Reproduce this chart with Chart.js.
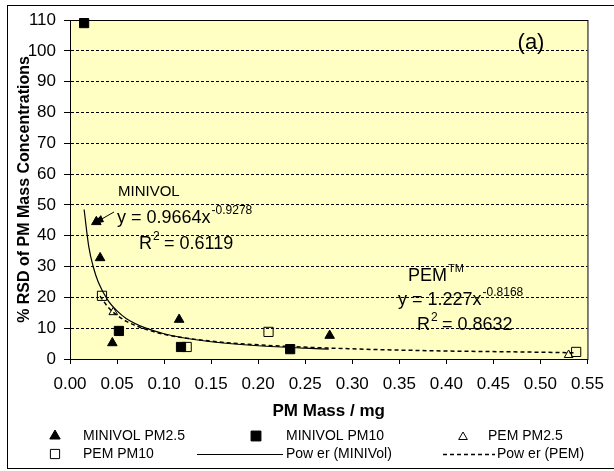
<!DOCTYPE html>
<html>
<head>
<meta charset="utf-8">
<script src="https://cdn.jsdelivr.net/npm/chart.js@4.4.0/dist/chart.umd.min.js"></script>
<style>
  body { margin: 0; background: #fff; }
  #wrap { width: 614px; height: 471px; }
</style>
</head>
<body>
<div id="wrap"><canvas id="rsdChart" width="614" height="471"></canvas></div>
<script>
// measured points
var minivolPm25X = [0.028, 0.032, 0.045, 0.116, 0.276];
var minivolPm25Y = [44.5, 32.8, 5.2, 12.8, 7.6];
var minivolPm10X = [0.015, 0.052, 0.118, 0.234];
var minivolPm10Y = [109, 9.1, 3.9, 3.2];
var pemPm25X = [0.046, 0.530];
var pemPm25Y = [15.2, 1.3];
var pemPm10X = [0.034, 0.124, 0.211, 0.538];
var pemPm10Y = [20.5, 3.9, 8.8, 2.3];

// trend lines
var minivolFitX = [0.015, 0.02, 0.025, 0.03, 0.04, 0.05, 0.06, 0.08, 0.10, 0.12, 0.15, 0.20, 0.25, 0.275];
var minivolFitY = [48.5, 36.4, 29.6, 25.0, 19.2, 15.6, 13.1, 10.1, 8.2, 6.9, 5.6, 4.3, 3.5, 3.2];
var pemFitX = [0.032, 0.04, 0.05, 0.06, 0.08, 0.10, 0.15, 0.20, 0.30, 0.40, 0.50, 0.537];
var pemFitY = [20.4, 17.0, 14.2, 12.2, 9.7, 8.0, 5.8, 4.6, 3.3, 2.6, 2.2, 2.0];

var seriesLabels = ['MINIVOL PM2.5', 'MINIVOL PM10', 'PEM PM2.5', 'PEM PM10', 'Pow er (MINIVol)', 'Pow er (PEM)'];

var FONT = '"Liberation Sans", Arial, sans-serif';

function pairs(xs, ys) {
  return xs.map(function (x, i) {
    return { x: x, y: ys[i] };
  });
}

function drawMarker(ctx, style, filled, x, y, r) {
  ctx.save();
  ctx.beginPath();
  if (style === 'triangle') {
    ctx.moveTo(x, y - r);
    ctx.lineTo(x + r * 0.866, y + r * 0.5);
    ctx.lineTo(x - r * 0.866, y + r * 0.5);
    ctx.closePath();
  } else {
    var s = r * Math.SQRT1_2;
    ctx.rect(x - s, y - s, 2 * s, 2 * s);
  }
  ctx.lineWidth = 1;
  ctx.strokeStyle = '#000';
  ctx.fillStyle = filled ? '#000' : '#fff';
  ctx.fill();
  ctx.stroke();
  ctx.restore();
}

// text with a raised exponent, left aligned
function supText(ctx, base, sup, x, y, size, supSize, supRise) {
  ctx.font = size + 'px ' + FONT;
  ctx.textBaseline = 'middle';
  ctx.textAlign = 'left';
  ctx.fillText(base, x, y);
  var w = ctx.measureText(base).width;
  ctx.font = supSize + 'px ' + FONT;
  ctx.fillText(sup, x + w + 1, y - supRise);
  return w;
}

var framePlugin = {
  id: 'frame',
  beforeDraw: function (chart) {
    var ctx = chart.ctx;
    var a = chart.chartArea;
    ctx.save();
    ctx.fillStyle = '#fff';
    ctx.fillRect(0, 0, chart.width, chart.height);
    ctx.strokeStyle = '#000';
    ctx.lineWidth = 1;
    ctx.strokeRect(7.5, 5.5, 640, 463);
    ctx.fillStyle = 'rgb(255,255,196)';
    ctx.fillRect(a.left, a.top, a.right - a.left, a.bottom - a.top);
    ctx.restore();
  },
  beforeDatasetsDraw: function (chart) {
    var ctx = chart.ctx;
    var a = chart.chartArea;
    ctx.save();
    ctx.strokeStyle = '#000';
    ctx.lineWidth = 1;
    ctx.strokeRect(a.left + 0.5, a.top + 0.5, a.right - a.left, a.bottom - a.top);
    ctx.restore();
  },
  afterDraw: function (chart) {
    var ctx = chart.ctx;
    ctx.save();
    ctx.fillStyle = '#000';

    // panel tag
    ctx.font = '22px ' + FONT;
    ctx.textAlign = 'center';
    ctx.textBaseline = 'middle';
    ctx.fillText('(a)', 531, 43);

    // MINIVOL fit label
    ctx.font = '15px ' + FONT;
    ctx.textAlign = 'left';
    ctx.fillText('MINIVOL', 118, 192);
    supText(ctx, 'y = 0.9664x', '-0.9278', 117, 218, 18, 12, 7);
    supText(ctx, 'R', '2', 139, 244, 18, 12, 7);
    ctx.font = '18px ' + FONT;
    ctx.fillText(' = 0.6119', 139 + ctx.measureText('R').width + 7, 244);

    // arrow to the first point
    ctx.strokeStyle = '#000';
    ctx.lineWidth = 1;
    ctx.beginPath();
    ctx.moveTo(114, 212);
    ctx.lineTo(100, 220);
    ctx.stroke();
    ctx.beginPath();
    ctx.moveTo(93, 224);
    ctx.lineTo(101, 215);
    ctx.lineTo(104, 222);
    ctx.closePath();
    ctx.fill();

    // PEM fit label
    supText(ctx, 'PEM', 'TM', 408, 276, 18, 11, 7);
    supText(ctx, 'y = 1.227x', '-0.8168', 398, 300, 18, 12, 7);
    supText(ctx, 'R', '2', 417, 325, 18, 12, 7);
    ctx.font = '18px ' + FONT;
    ctx.fillText(' = 0.8632', 417 + ctx.measureText('R').width + 7, 325);

    // legend
    var row1 = 436, row2 = 454;
    ctx.font = '14px ' + FONT;
    ctx.textBaseline = 'middle';
    drawMarker(ctx, 'triangle', true, 55, row1, 6);
    ctx.fillText(seriesLabels[0], 83, row1);
    drawMarker(ctx, 'rect', true, 256, row1, 7);
    ctx.fillText(seriesLabels[1], 286, row1);
    drawMarker(ctx, 'triangle', false, 463, row1 + 1, 5);
    ctx.fillText(seriesLabels[2], 488, row1);
    drawMarker(ctx, 'rect', false, 55, row2, 6.5);
    ctx.fillText(seriesLabels[3], 83, row2);
    ctx.beginPath();
    ctx.moveTo(197, row2 + 0.5);
    ctx.lineTo(283, row2 + 0.5);
    ctx.stroke();
    ctx.fillText(seriesLabels[4], 286, row2);
    ctx.save();
    ctx.lineWidth = 1.5;
    ctx.setLineDash([4, 3]);
    ctx.beginPath();
    ctx.moveTo(443, row2 + 0.5);
    ctx.lineTo(495, row2 + 0.5);
    ctx.stroke();
    ctx.restore();
    ctx.fillText(seriesLabels[5], 497, row2);
    ctx.restore();
  }
};

var ctx = document.getElementById('rsdChart').getContext('2d');
new Chart(ctx, {
  type: 'scatter',
  data: {
    datasets: [
      {
        label: seriesLabels[0],
        data: pairs(minivolPm25X, minivolPm25Y),
        pointStyle: 'triangle',
        pointRadius: 5.5,
        backgroundColor: '#000',
        borderColor: '#000',
        borderWidth: 1,
        clip: false,
      },
      {
        label: seriesLabels[1],
        data: pairs(minivolPm10X, minivolPm10Y),
        pointStyle: 'rect',
        pointRadius: 6.5,
        backgroundColor: '#000',
        borderColor: '#000',
        borderWidth: 1,
        clip: false,
      },
      {
        label: seriesLabels[2],
        data: pairs(pemPm25X, pemPm25Y),
        pointStyle: 'triangle',
        pointRadius: 5,
        backgroundColor: 'rgba(0,0,0,0)',
        borderColor: '#000',
        borderWidth: 1,
        clip: false,
      },
      {
        label: seriesLabels[3],
        data: pairs(pemPm10X, pemPm10Y),
        pointStyle: 'rect',
        pointRadius: 6.5,
        backgroundColor: 'rgba(0,0,0,0)',
        borderColor: '#000',
        borderWidth: 1,
        clip: false,
      },
      {
        label: seriesLabels[4],
        data: pairs(minivolFitX, minivolFitY),
        showLine: true,
        pointRadius: 0,
        borderColor: '#000',
        borderWidth: 1.2,
        cubicInterpolationMode: 'monotone',
      },
      {
        label: seriesLabels[5],
        data: pairs(pemFitX, pemFitY),
        showLine: true,
        pointRadius: 0,
        borderColor: '#000',
        borderWidth: 1.5,
        borderDash: [4, 3],
        cubicInterpolationMode: 'monotone',
      },
    ],
  },
  options: {
    responsive: false,
    animation: false,
    layout: {
      padding: { top: 20, right: 16, bottom: 42, left: 0 },
    },
    plugins: {
      legend: { display: false },
      tooltip: { enabled: false },
    },
    scales: {
      x: {
        type: 'linear',
        min: 0,
        max: 0.55,
        afterFit: function (scale) {
          scale.height = 70;
        },
        ticks: {
          stepSize: 0.05,
          color: '#000',
          padding: 10,
          font: { family: FONT, size: 17 },
          callback: function (v) {
            return v.toFixed(2);
          },
        },
        grid: {
          drawOnChartArea: false,
          drawTicks: true,
          tickLength: 5,
          tickColor: '#000',
        },
        border: { color: '#000', width: 1 },
        title: {
          display: true,
          text: 'PM Mass / mg',
          color: '#000',
          font: { family: FONT, size: 17, weight: 'bold' },
          padding: { top: 0, bottom: 7 },
        },
      },
      y: {
        type: 'linear',
        min: 0,
        max: 110,
        afterFit: function (scale) {
          scale.width = 70;
        },
        ticks: {
          stepSize: 10,
          color: '#000',
          padding: 8,
          font: { family: FONT, size: 17 },
        },
        grid: {
          color: '#000',
          lineWidth: 1,
          drawTicks: true,
          tickLength: 6,
          tickColor: '#000',
        },
        border: { color: '#000', width: 1, dash: [3, 2] },
        title: {
          display: true,
          text: '% RSD of PM Mass Concentrations',
          color: '#000',
          font: { family: FONT, size: 16, weight: 'bold' },
          padding: { top: 15, bottom: 0 },
        },
      },
    },
  },
  plugins: [framePlugin],
});
</script>
</body>
</html>
